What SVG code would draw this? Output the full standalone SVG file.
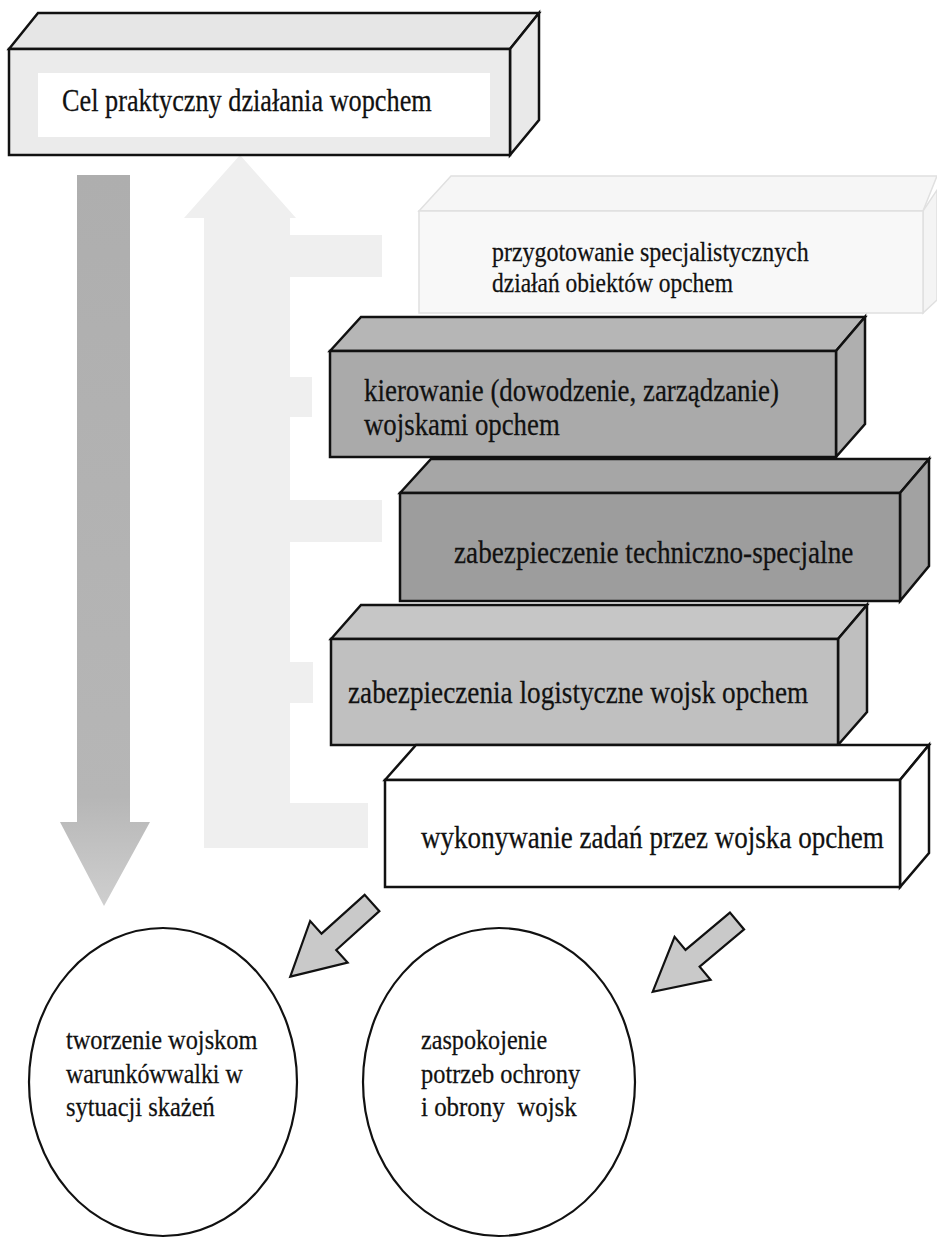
<svg xmlns="http://www.w3.org/2000/svg" width="937" height="1239" viewBox="0 0 937 1239">
  <defs>
    <linearGradient id="downGrad" x1="0" y1="0" x2="0" y2="1">
      <stop offset="0" stop-color="#aeaeae"/>
      <stop offset="0.85" stop-color="#b6b6b6"/>
      <stop offset="1" stop-color="#cfcfcf"/>
    </linearGradient>
    <polygon id="blockArrow" points="0,-11 58,-11 58,-28 110,0 58,28 58,11 0,11"/>
  </defs>
  <style>
    .box { stroke: #111; stroke-width: 2.5; stroke-linejoin: miter; }
    .lbl { font-family: "Liberation Serif", "Times New Roman", serif; fill: #111; stroke: #111; stroke-width: 0.25; }
    .big { font-size: 31px; }
    .mid { font-size: 28px; }
    .oval { fill: #fff; stroke: #111; stroke-width: 2.2; }
    .sarrow { fill: #c9c9c9; stroke: #111; stroke-width: 2.2; stroke-linejoin: miter; }
  </style>

  <rect width="937" height="1239" fill="#ffffff"/>

  <!-- pale upward arrow with side branches feeding back from the boxes -->
  <g id="feedback" fill="#efefef">
    <polygon points="240,155 296,218 290,218 290,848 204,848 204,218 184,218"/>
    <rect x="290" y="235" width="92" height="42"/>
    <rect x="290" y="377" width="22" height="40"/>
    <rect x="290" y="500" width="92" height="42"/>
    <rect x="290" y="662" width="23" height="41"/>
    <rect x="290" y="803" width="78" height="45"/>
  </g>

  <!-- broad grey downward arrow -->
  <g id="down-arrow">
    <polygon points="77,175 130,175 130,822 150,822 104,906 60,822 77,822" fill="url(#downGrad)"/>
  </g>

  <!-- goal box -->
  <g id="goal">
    <polygon class="box" points="9,49 38,13 539,13 510,49" fill="#e6e6e6"/>
    <polygon class="box" points="510,49 539,13 539,120 510,155" fill="#e9e9e9"/>
    <rect class="box" x="9" y="49" width="501" height="106" fill="#ebebeb"/>
    <rect x="38" y="73" width="452" height="64" fill="#ffffff"/>
    <text class="lbl big" transform="translate(62,111) scale(0.87,1)" textLength="425" lengthAdjust="spacingAndGlyphs">Cel praktyczny działania wopchem</text>
  </g>

  <!-- preparation box (pale) -->
  <g id="preparation">
    <polygon points="419,211 451,176 937,176 923,211" fill="#f6f6f6" stroke="#e0e0e0" stroke-width="1.5"/>
    <polygon points="923,211 937,190 937,300 923,313" fill="#f4f4f4" stroke="#e0e0e0" stroke-width="1.5"/>
    <rect x="419" y="211" width="504" height="102" fill="#f8f8f8" stroke="#e0e0e0" stroke-width="1.5"/>
    <text class="lbl mid" transform="translate(492,261) scale(0.87,1)" textLength="364" lengthAdjust="spacingAndGlyphs">przygotowanie specjalistycznych</text>
    <text class="lbl mid" transform="translate(492,292) scale(0.87,1)" textLength="277" lengthAdjust="spacingAndGlyphs">działań obiektów opchem</text>
  </g>

  <!-- command box -->
  <g id="command">
    <polygon class="box" points="330,351 361,317 865,317 836,351" fill="#b6b6b6"/>
    <polygon class="box" points="836,351 865,317 865,424 836,457" fill="#afafaf"/>
    <rect class="box" x="330" y="351" width="506" height="106" fill="#aaaaaa"/>
    <text class="lbl big" transform="translate(364,401) scale(0.87,1)" textLength="477" lengthAdjust="spacingAndGlyphs">kierowanie (dowodzenie, zarządzanie)</text>
    <text class="lbl big" transform="translate(364,435) scale(0.87,1)" textLength="225" lengthAdjust="spacingAndGlyphs">wojskami opchem</text>
  </g>

  <!-- technical support box -->
  <g id="technical">
    <polygon class="box" points="400,493 431,459 929,459 900,493" fill="#a6a6a6"/>
    <polygon class="box" points="900,493 929,459 929,566 900,601" fill="#a2a2a2"/>
    <rect class="box" x="400" y="493" width="500" height="108" fill="#9d9d9d"/>
    <text class="lbl big" transform="translate(454,563) scale(0.87,1)" textLength="459" lengthAdjust="spacingAndGlyphs">zabezpieczenie techniczno-specjalne</text>
  </g>

  <!-- logistics box -->
  <g id="logistics">
    <polygon class="box" points="331,639 361,605 867,605 838,639" fill="#c6c6c6"/>
    <polygon class="box" points="838,639 867,605 867,712 838,745" fill="#bfbfbf"/>
    <rect class="box" x="331" y="639" width="507" height="106" fill="#c0c0c0"/>
    <text class="lbl big" transform="translate(348,703) scale(0.87,1)" textLength="529" lengthAdjust="spacingAndGlyphs">zabezpieczenia logistyczne wojsk opchem</text>
  </g>

  <!-- execution box -->
  <g id="execution">
    <polygon class="box" points="385,780 416,745 929,745 900,780" fill="#ffffff"/>
    <polygon class="box" points="900,780 929,745 929,853 900,887" fill="#ffffff"/>
    <rect class="box" x="385" y="780" width="515" height="107" fill="#ffffff"/>
    <text class="lbl big" transform="translate(421,848) scale(0.87,1)" textLength="532" lengthAdjust="spacingAndGlyphs">wykonywanie zadań przez wojska opchem</text>
  </g>

  <!-- block arrows from execution to the two outcomes -->
  <g id="connectors">
    <use href="#blockArrow" class="sarrow" transform="translate(372,903) rotate(138)"/>
    <use href="#blockArrow" class="sarrow" transform="translate(737,921) rotate(140)"/>
  </g>

  <!-- outcome: combat conditions -->
  <g id="conditions">
    <ellipse class="oval" cx="163" cy="1082" rx="134" ry="154"/>
    <text class="lbl mid" transform="translate(66,1049) scale(0.87,1)" textLength="220" lengthAdjust="spacingAndGlyphs">tworzenie wojskom</text>
    <text class="lbl mid" transform="translate(66,1083) scale(0.87,1)" textLength="203" lengthAdjust="spacingAndGlyphs">warunkówwalki w</text>
    <text class="lbl mid" transform="translate(66,1116) scale(0.87,1)" textLength="171" lengthAdjust="spacingAndGlyphs">sytuacji skażeń</text>
  </g>

  <!-- outcome: protection needs -->
  <g id="protection">
    <ellipse class="oval" cx="499" cy="1082" rx="136" ry="154"/>
    <text class="lbl mid" transform="translate(421,1049) scale(0.87,1)" textLength="145" lengthAdjust="spacingAndGlyphs">zaspokojenie</text>
    <text class="lbl mid" transform="translate(421,1083) scale(0.87,1)" textLength="183" lengthAdjust="spacingAndGlyphs">potrzeb ochrony</text>
    <text class="lbl mid" transform="translate(421,1116) scale(0.87,1)" textLength="179" lengthAdjust="spacingAndGlyphs" xml:space="preserve">i obrony  wojsk</text>
  </g>
</svg>
